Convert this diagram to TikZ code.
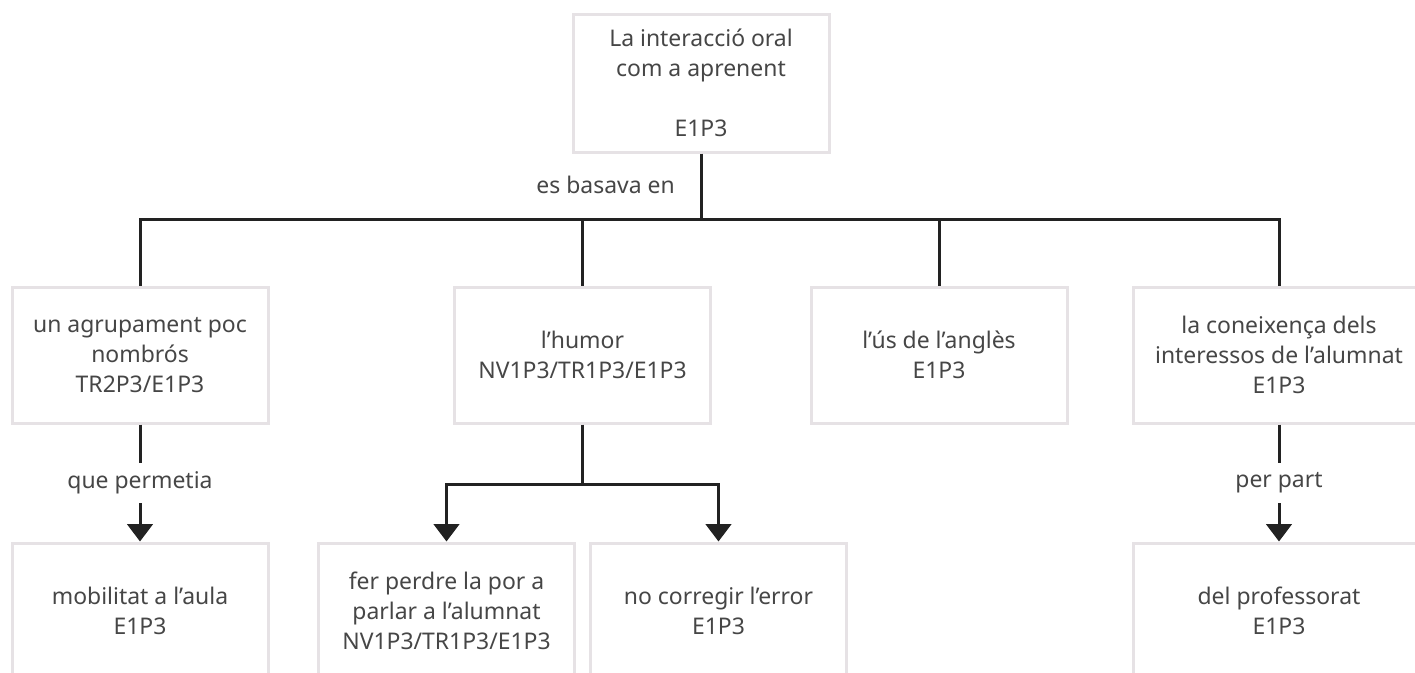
\documentclass[tikz,border=0pt]{standalone}
\usepackage{fontspec}
\setmainfont{Noto Sans}
\usetikzlibrary{arrows.meta}
\definecolor{boxline}{RGB}{230,226,229}
\definecolor{ink}{RGB}{34,34,34}
\definecolor{txt}{RGB}{70,70,70}
\tikzset{
  cbox/.style={draw=boxline, line width=2.25pt, fill=white,
    minimum width=192pt, minimum height=102pt, align=center,
    text=txt, font=\fontsize{17.2}{22.5}\selectfont, inner sep=0pt},
  link/.style={draw=ink, line width=2.25pt},
  arrow/.style={link, -{Triangle[length=13pt,width=19pt]}},
  elabel/.style={fill=white, text=txt, font=\fontsize{17.2}{22.5}\selectfont,
    inner sep=0pt, minimum height=30pt},
}
\begin{document}
\begin{tikzpicture}[x=0.75pt, y=-0.75pt]
\useasboundingbox (0,0) rectangle (1415,672);
\clip (0,0) rectangle (1415,672);

% root concept
\node[cbox, minimum height=103.5pt] (top) at (701,83)
  {La interacció oral\\com a aprenent\\[22.5pt]E1P3};

% second level
\node[cbox] (b1) at (140,355) {un agrupament poc\\nombrós\\TR2P3/E1P3};
\node[cbox] (b2) at (582.5,355) {l’humor\\NV1P3/TR1P3/E1P3};
\node[cbox] (b3) at (939,355) {l’ús de l’anglès\\E1P3};
\node[cbox, minimum width=219pt] (b4) at (1279,355)
  {la coneixença dels\\interessos de l’alumnat\\E1P3};

% third level
\node[cbox] (c1) at (140,611) {mobilitat a l’aula\\E1P3};
\node[cbox] (c2) at (446.5,611) {fer perdre la por a\\parlar a l’alumnat\\NV1P3/TR1P3/E1P3};
\node[cbox] (c3) at (718.5,611) {no corregir l’error\\E1P3};
\node[cbox, minimum width=219pt] (c4) at (1279,611) {del professorat\\E1P3};

% branching from the root
\coordinate (bus) at (701,219);
\draw[link] (top.south) -- (bus);
\draw[link] (b1.north) |- (bus) -| (b4.north);
\draw[link] (b2.north |- bus) -- (b2.north);
\draw[link] (b3.north |- bus) -- (b3.north);
\node[elabel, anchor=east] (lbl) at (675,185) {es basava en};

% lower links
\draw[arrow] (b1.south) -- (c1.north) node[elabel, midway] (l1) {que permetia};
\path (b2.south) ++(0,60) coordinate (fork);
\draw[arrow] (b2.south) -- (fork) -| (c2.north);
\draw[arrow] (fork) -| (c3.north);
\draw[arrow] (b4.south) -- (c4.north) node[elabel, midway] (l4) {per part};
\end{tikzpicture}
\end{document}
